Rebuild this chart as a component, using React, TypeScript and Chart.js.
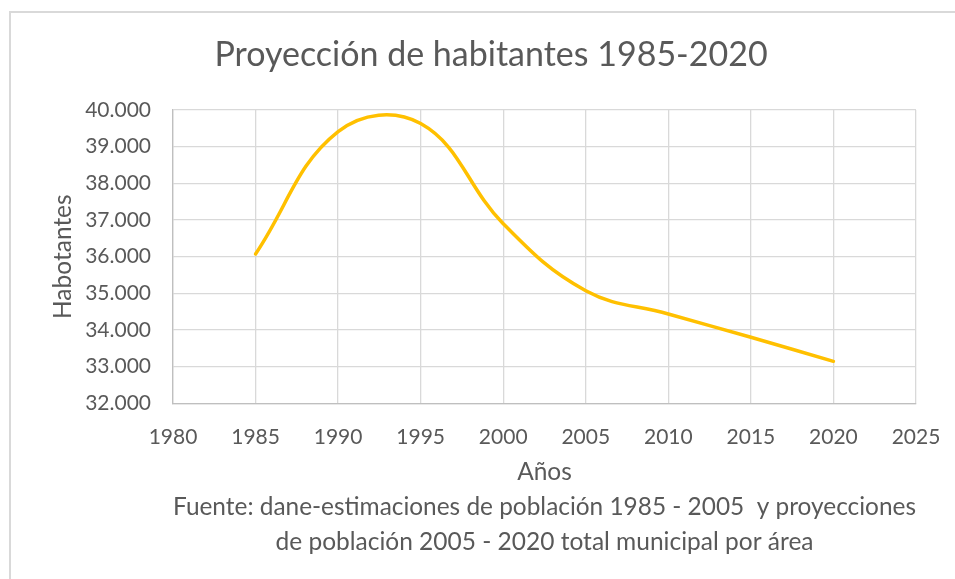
import React, { useEffect, useRef } from "react";
import { Chart, registerables } from "chart.js";

Chart.register(...registerables);

const years = [1985, 1990, 1995, 2000, 2005, 2010, 2015, 2020];
const habitantes = [36074, 39410, 39630, 36900, 35070, 34436, 33800, 33145];
const xTicks = [1980, 1985, 1990, 1995, 2000, 2005, 2010, 2015, 2020, 2025];
const yTicks = [32000, 33000, 34000, 35000, 36000, 37000, 38000, 39000, 40000];

const chartTitle = "Proyección de habitantes 1985-2020";
const yTitle = "Habotantes";
const xTitleLines = [
  "Años",
  "Fuente: dane-estimaciones de población 1985 - 2005  y proyecciones",
  "de población 2005 - 2020 total municipal por área",
];

const FONT = "Lato, 'Noto Sans', sans-serif";
const TEXT = "#595959";

function fmtThousands(v: number): string {
  const s = Math.round(v).toString();
  return s.replace(/\B(?=(\d{3})+(?!\d))/g, ".");
}

export default function App() {
  const ref = useRef<HTMLCanvasElement | null>(null);

  useEffect(() => {
    document.body.style.margin = "0";
    const canvas = ref.current;
    if (!canvas) return;
    const chart = new Chart(canvas, {
      type: "line",
      data: {
        datasets: [
          {
            label: "Habitantes",
            data: years.map((y, i) => ({ x: y, y: habitantes[i] })),
            borderColor: "#FFC000",
            backgroundColor: "#FFC000",
            borderWidth: 3.5,
            pointRadius: 0,
            tension: 0.4,
            fill: false,
            borderCapStyle: "round",
          },
        ],
      },
      options: {
        responsive: false,
        animation: false,
        events: [],
        elements: { line: { capBezierPoints: false } },
        layout: { padding: { left: 27, right: 0, top: 0, bottom: 0 } },
        plugins: {
          legend: { display: false },
          tooltip: { enabled: false },
          title: {
            display: true,
            text: chartTitle,
            color: TEXT,
            font: { family: FONT, size: 34, weight: "normal", lineHeight: 1.2 },
            padding: { top: 34.6, bottom: 34.6 },
          },
        },
        scales: {
          x: {
            type: "linear",
            min: 1980,
            max: 2025,
            afterBuildTicks: (scale: any) => {
              scale.ticks = xTicks.map((v) => ({ value: v }));
            },
            afterFit: (scale: any) => {
              scale.height = 175.7;
              scale.paddingRight = 39;
            },
            ticks: {
              color: TEXT,
              font: { family: FONT, size: 21 },
              padding: 21,
              maxRotation: 0,
              autoSkip: false,
              callback: (v: any) => String(v),
            },
            grid: { color: "#D9D9D9", lineWidth: 1.3, drawTicks: false },
            border: { color: "#BFBFBF", width: 1.3 },
            title: {
              display: true,
              text: xTitleLines,
              color: TEXT,
              font: { family: FONT, size: 24.5, lineHeight: "35px" },
              padding: { top: 0, bottom: 19 },
            },
          },
          y: {
            type: "linear",
            min: 32000,
            max: 40000,
            afterBuildTicks: (scale: any) => {
              scale.ticks = yTicks.map((v) => ({ value: v }));
            },
            afterFit: (scale: any) => {
              scale.width = 146;
            },
            ticks: {
              color: TEXT,
              font: { family: FONT, size: 21 },
              padding: 22,
              callback: (v: any) => fmtThousands(Number(v)),
            },
            grid: { color: "#D9D9D9", lineWidth: 1.3, drawTicks: false },
            border: { color: "#BFBFBF", width: 1.3 },
            title: {
              display: true,
              text: yTitle,
              color: TEXT,
              font: { family: FONT, size: 24.5, lineHeight: 1.2 },
              padding: { top: 21, bottom: 0 },
            },
          },
        },
      },
    });
    return () => chart.destroy();
  }, []);

  return (
    <div style={{ position: "relative", width: 955, height: 579, overflow: "hidden", background: "#fff" }}>
      <div
        style={{
          position: "absolute",
          left: 9,
          top: 11,
          width: 2000,
          height: 2000,
          borderLeft: "2px solid #D9D9D9",
          borderTop: "2px solid #D9D9D9",
        }}
      />
      <canvas ref={ref} width={955} height={579} style={{ position: "absolute", left: 0, top: 0, display: "block" }} />
    </div>
  );
}
